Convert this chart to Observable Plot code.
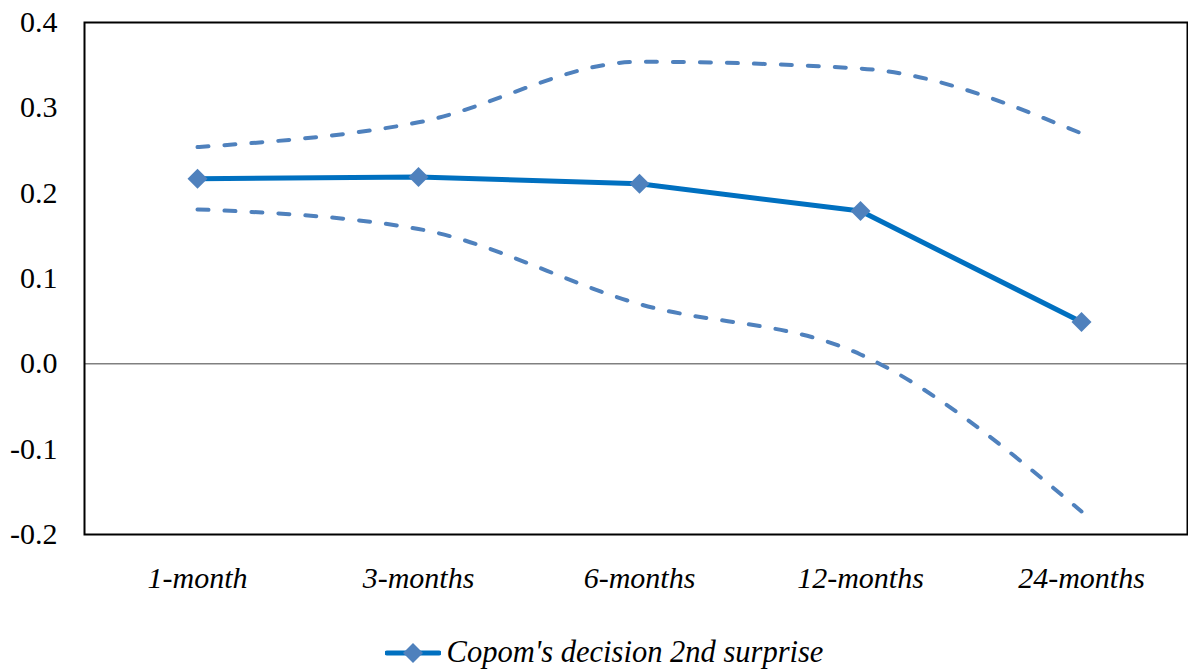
<!DOCTYPE html>
<html>
<head>
<meta charset="utf-8">
<script src="https://cdn.jsdelivr.net/npm/d3@7"></script>
<script src="https://cdn.jsdelivr.net/npm/@observablehq/plot@0.6"></script>
<style>
  html, body { margin: 0; padding: 0; background: #fff; }
  #chart svg { display: block; font-family: "Liberation Serif", "Times New Roman", serif; }
  .legend {
    display: flex; align-items: center; justify-content: center;
    font-family: "Liberation Serif", "Times New Roman", serif;
    font-style: italic; font-size: 30.5px; color: #000;
    height: 61px; margin-top: 12px; margin-left: 20px;
  }
  .legend svg { margin-right: 6px; }
</style>
</head>
<body>
<div id="chart"></div>
<div class="legend" id="legend"></div>
<script>
// Response of the yield curve to the 2nd Copom surprise, by horizon
const horizons = ["1-month", "3-months", "6-months", "12-months", "24-months"];
const estimate = [0.217, 0.219, 0.211, 0.179, 0.049];
const upperBand = [0.254, 0.283, 0.354, 0.346, 0.270];
const lowerBand = [0.181, 0.158, 0.070, 0.011, -0.173];
const yTicks = [-0.2, -0.1, 0.0, 0.1, 0.2, 0.3, 0.4];
const seriesName = "Copom's decision 2nd surprise";

const lineColor = "#0070C0";
const bandColor = "#4F81BD";
const serif = "'Liberation Serif', 'Times New Roman', serif";

const rows = horizons.map((h, i) => ({h, est: estimate[i], hi: upperBand[i], lo: lowerBand[i]}));

const chart = Plot.plot({
  width: 1188,
  height: 610,
  marginLeft: 84,
  marginRight: 1,
  marginTop: 22,
  marginBottom: 76,
  style: {fontFamily: serif, background: "#fff", color: "#000"},
  x: {type: "point", domain: horizons, range: [195, 1082], padding: 0},
  y: {domain: [-0.2, 0.4]},
  marks: [
    Plot.ruleY([0], {stroke: "#808080", strokeWidth: 1.5}),
    Plot.line(rows, {x: "h", y: "hi", stroke: bandColor, strokeWidth: 4, strokeDasharray: "11,16", strokeLinecap: "round", curve: "monotone-x"}),
    Plot.line(rows, {x: "h", y: "lo", stroke: bandColor, strokeWidth: 4, strokeDasharray: "11,16", strokeLinecap: "round", curve: "monotone-x"}),
    Plot.line(rows, {x: "h", y: "est", stroke: lineColor, strokeWidth: 5}),
    Plot.dot(rows, {x: "h", y: "est", symbol: "diamond2", r: 9, fill: bandColor, stroke: "none"}),
    Plot.frame({stroke: "#000", strokeWidth: 2, strokeOpacity: 1}),
    Plot.axisY(yTicks, {tickSize: 0, tickPadding: 27, fontSize: 30, fontFamily: serif, tickFormat: d => d.toFixed(1), label: null}),
    Plot.axisX({tickSize: 0, tickPadding: 32, fontSize: 30, fontFamily: serif, fontStyle: "italic", label: null})
  ]
});
document.getElementById("chart").append(chart);

// Legend: swatch with line and diamond, then the series name
const legend = d3.select("#legend");
const sw = legend.append("svg").attr("width", 56).attr("height", 24);
sw.append("line").attr("x1", 2).attr("x2", 54).attr("y1", 12).attr("y2", 12)
  .attr("stroke", lineColor).attr("stroke-width", 5).attr("stroke-linecap", "round");
sw.append("path").attr("d", d3.symbol(d3.symbolDiamond2, Math.PI * 81)()).attr("transform", "translate(28,12)")
  .attr("fill", bandColor);
legend.append("span").text(seriesName);
</script>
</body>
</html>
